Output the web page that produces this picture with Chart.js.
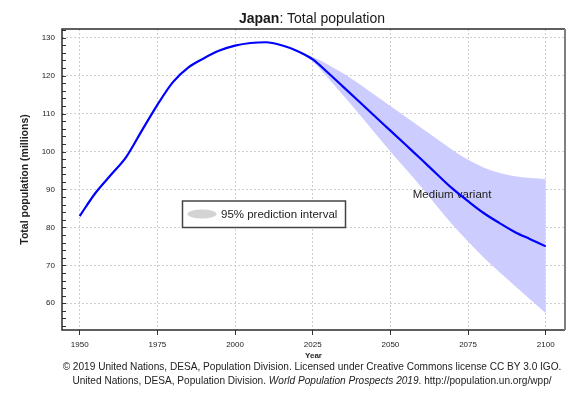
<!DOCTYPE html>
<html>
<head>
<meta charset="utf-8">
<title>Japan: Total population</title>
<script src="https://cdn.jsdelivr.net/npm/chart.js@4.4.1/dist/chart.umd.min.js"></script>
<style>
  html, body { margin: 0; padding: 0; background: #fff; }
  body {
    width: 585px; height: 398px; position: relative; overflow: hidden;
    font-family: "Liberation Sans", Arial, sans-serif; color: #222;
  }
  #chart { position: absolute; left: 0; top: 0; }
  .title {
    position: absolute; top: 11px; left: 312px; transform: translateX(-50%);
    font-size: 14px; line-height: 14px; white-space: nowrap; color: #1a1a1a;
  }
  .credit {
    position: absolute; left: 312px; transform: translateX(-50%);
    font-size: 10.1px; line-height: 10px; white-space: nowrap; color: #222;
  }
</style>
</head>
<body>
<canvas id="chart" width="585" height="398"></canvas>
<div class="title"><b>Japan</b>: Total population</div>
<div class="credit" style="top:362px">© 2019 United Nations, DESA, Population Division. Licensed under Creative Commons license CC BY 3.0 IGO.</div>
<div class="credit" style="top:376px">United Nations, DESA, Population Division. <i>World Population Prospects 2019</i>. http://population.un.org/wpp/</div>

<script>
(function () {
    'use strict';

    // estimates 1950-2020 and medium variant 2020-2100 (millions)
    var YEARS = [1950, 1955, 1960, 1965, 1970, 1975, 1980, 1985, 1990, 1995,
                 2000, 2005, 2010, 2015, 2020, 2025, 2030, 2035, 2040, 2045,
                 2050, 2055, 2060, 2065, 2070, 2075, 2080, 2085, 2090, 2095, 2100];
    var POPULATION = [83.0, 89.0, 93.8, 98.6, 105.5, 112.3, 118.3, 122.2, 124.6, 126.6,
                      127.9, 128.6, 128.8, 128.0, 126.5, 124.3, 120.7, 116.9, 113.1, 109.3,
                      105.5, 101.7, 97.9, 94.0, 90.2, 86.9, 83.8, 81.2, 78.8, 76.9, 75.0];

    // 95% prediction interval
    var PROJ_YEARS = [2020, 2025, 2030, 2035, 2040, 2045, 2050, 2055, 2060,
                      2065, 2070, 2075, 2080, 2085, 2090, 2095, 2100];
    var UPPER_95 = [126.5, 124.9, 122.9, 120.5, 117.8, 114.9, 112.0, 109.1, 106.2,
                    103.3, 100.4, 97.8, 95.8, 94.4, 93.5, 93.0, 92.7];
    var LOWER_95 = [126.5, 123.7, 119.3, 114.6, 109.8, 104.9, 100.0, 95.3, 90.6,
                    85.6, 80.7, 76.3, 72.1, 68.3, 64.6, 61.0, 57.4];

    var X_TICKS = [1950, 1975, 2000, 2025, 2050, 2075, 2100];
    var Y_TICKS = [60, 70, 80, 90, 100, 110, 120, 130];
    var Y_MINOR_STEP = 2;

    var VARIANT_LABEL = 'Medium variant';
    var INTERVAL_LABEL = '95% prediction interval';

    var FONT = '"Liberation Sans", Arial, sans-serif';

    function points(xs, ys) {
        return xs.map(function (x, i) { return { x: x, y: ys[i] }; });
    }

    var decorations = {
        id: 'decorations',
        beforeDatasetDraw: function (chart, args) {
            // the variant label sits under the blue line, on top of the band
            if (args.index !== 0) return;
            var ctx = chart.ctx, sx = chart.scales.x, sy = chart.scales.y;
            ctx.save();
            ctx.font = '11.5px ' + FONT;
            ctx.fillStyle = '#222';
            ctx.textBaseline = 'middle';
            ctx.fillText(VARIANT_LABEL, sx.getPixelForValue(2057.2), sy.getPixelForValue(88.5));
            ctx.restore();
        },
        afterDraw: function (chart) {
            var ctx = chart.ctx, a = chart.chartArea, sy = chart.scales.y;
            ctx.save();

            // inward minor ticks on the y axis
            ctx.strokeStyle = '#333';
            ctx.lineWidth = 1;
            ctx.beginPath();
            for (var v = Math.ceil(sy.min / Y_MINOR_STEP) * Y_MINOR_STEP; v <= sy.max; v += Y_MINOR_STEP) {
                var py = Math.round(sy.getPixelForValue(v)) + 0.5;
                ctx.moveTo(a.left, py);
                ctx.lineTo(a.left + 4, py);
            }
            ctx.stroke();

            // plot frame
            ctx.lineWidth = 1.5;
            ctx.strokeStyle = '#2b2b2b';
            ctx.beginPath();
            ctx.moveTo(a.right, a.top);
            ctx.lineTo(a.left, a.top);
            ctx.lineTo(a.left, a.bottom);
            ctx.lineTo(a.right, a.bottom);
            ctx.stroke();
            ctx.strokeStyle = '#808080';
            ctx.lineWidth = 2;
            ctx.beginPath();
            ctx.moveTo(a.right, a.top);
            ctx.lineTo(a.right, a.bottom);
            ctx.stroke();

            // legend box
            var bx = 182.5, by = 201, bw = 163, bh = 26.5;
            ctx.fillStyle = '#fff';
            ctx.fillRect(bx, by, bw, bh);
            ctx.strokeStyle = '#444';
            ctx.lineWidth = 1.5;
            ctx.strokeRect(bx, by, bw, bh);
            ctx.fillStyle = '#d3d3d3';
            ctx.beginPath();
            ctx.ellipse(bx + 19.5, by + 13, 14.5, 4.6, 0, 0, Math.PI * 2);
            ctx.fill();
            ctx.fillStyle = '#222';
            ctx.font = '11.5px ' + FONT;
            ctx.textBaseline = 'middle';
            ctx.fillText(INTERVAL_LABEL, bx + 38.5, by + 13.5);

            ctx.restore();
        }
    };

    new Chart(document.getElementById('chart'), {
        type: 'line',
        data: {
            datasets: [{
                label: VARIANT_LABEL,
                data: points(YEARS, POPULATION),
                borderColor: '#0000ff',
                borderWidth: 2.2,
                pointRadius: 0,
                fill: false,
                cubicInterpolationMode: 'monotone'
            }, {
                label: 'Upper 95%',
                data: points(PROJ_YEARS, UPPER_95),
                borderColor: 'transparent',
                borderWidth: 0,
                pointRadius: 0,
                fill: false,
                cubicInterpolationMode: 'monotone'
            }, {
                label: INTERVAL_LABEL,
                data: points(PROJ_YEARS, LOWER_95),
                borderColor: 'transparent',
                backgroundColor: '#ccccff',
                borderWidth: 0,
                pointRadius: 0,
                fill: '-1',
                cubicInterpolationMode: 'monotone'
            }]
        },
        options: {
            responsive: false,
            animation: false,
            events: [],
            layout: { padding: { top: 29, right: 20, bottom: 0, left: 0 } },
            plugins: { legend: { display: false }, tooltip: { enabled: false } },
            scales: {
                x: {
                    type: 'linear',
                    min: 1944.3,
                    max: 2106.2,
                    afterBuildTicks: function (s) {
                        s.ticks = X_TICKS.map(function (v) { return { value: v }; });
                    },
                    afterFit: function (s) { s.height = 68; },
                    ticks: {
                        color: '#222',
                        font: { size: 8, family: FONT },
                        padding: 5,
                        maxRotation: 0,
                        callback: function (v) { return String(v); }
                    },
                    grid: {
                        color: '#cfcfcf',
                        lineWidth: 1,
                        tickColor: '#333',
                        tickLength: 5,
                        tickWidth: 1
                    },
                    border: { display: false, dash: [2, 2] },
                    title: {
                        display: true,
                        text: 'Year',
                        color: '#222',
                        font: { size: 8, weight: 'bold', family: FONT },
                        padding: { top: 0, bottom: 37.2 }
                    }
                },
                y: {
                    min: 52.96,
                    max: 132.29,
                    afterBuildTicks: function (s) {
                        s.ticks = Y_TICKS.map(function (v) { return { value: v }; });
                    },
                    afterFit: function (s) { s.width = 62; },
                    ticks: {
                        color: '#222',
                        font: { size: 8, family: FONT },
                        padding: 7
                    },
                    grid: {
                        color: '#cfcfcf',
                        lineWidth: 1,
                        drawTicks: false
                    },
                    border: { display: false, dash: [2, 2] },
                    title: {
                        display: true,
                        text: 'Total population (millions)',
                        color: '#222',
                        font: { size: 10.5, weight: 'bold', family: FONT },
                        padding: { top: 18.7, bottom: 0 }
                    }
                }
            }
        },
        plugins: [decorations]
    });
})();
</script>
</body>
</html>
